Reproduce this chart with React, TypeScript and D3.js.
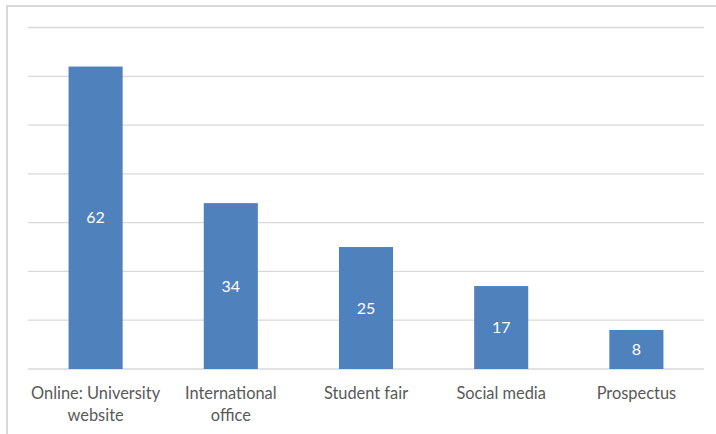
import React from "react";
import * as d3 from "d3";

const categories: string[][] = [
  ["Online: University", "website"],
  ["International", "office"],
  ["Student fair"],
  ["Social media"],
  ["Prospectus"],
];
const values: number[] = [62, 34, 25, 17, 8];
const yTicks: number[] = [0, 10, 20, 30, 40, 50, 60, 70];

const W = 716;
const H = 434;
const left = 28;
const right = 704;
const top = 27.5;
const bottom = 369;

export default function App() {
  const x = d3
    .scaleBand<number>()
    .domain(values.map((_, i) => i))
    .range([left, right])
    .paddingInner(0.6)
    .paddingOuter(0.3);
  const y = d3.scaleLinear().domain([0, 70]).range([bottom, top]);
  const font = "Lato, 'Open Sans', sans-serif";
  return (
    <svg
      width={W}
      height={H}
      style={{ position: "absolute", left: 0, top: 0, background: "#fff" }}
    >
      <rect x={7} y={6} width={W + 10} height={H + 10} fill="#fff" stroke="#d9d9d9" strokeWidth={2} />
      {yTicks.map((t) => (
        <line key={t} x1={left} x2={right} y1={y(t)} y2={y(t)} stroke="#d9d9d9" strokeWidth={1.3} />
      ))}
      {values.map((v, i) => (
        <g key={i}>
          <rect x={x(i)} y={y(v)} width={x.bandwidth()} height={bottom - y(v)} fill="#4F81BD" />
          <text
            x={(x(i) as number) + x.bandwidth() / 2}
            y={(y(v) + bottom) / 2}
            dy="0.35em"
            textAnchor="middle"
            fill="#fff"
            fontFamily={font}
            fontSize={16}
          >
            {v}
          </text>
          {categories[i].map((line, j) => (
            <text
              key={j}
              x={(x(i) as number) + x.bandwidth() / 2}
              y={393 + j * 22}
              dy="0.35em"
              textAnchor="middle"
              fill="#595959"
              fontFamily={font}
              fontSize={16.4}
            >
              {line}
            </text>
          ))}
        </g>
      ))}
    </svg>
  );
}
